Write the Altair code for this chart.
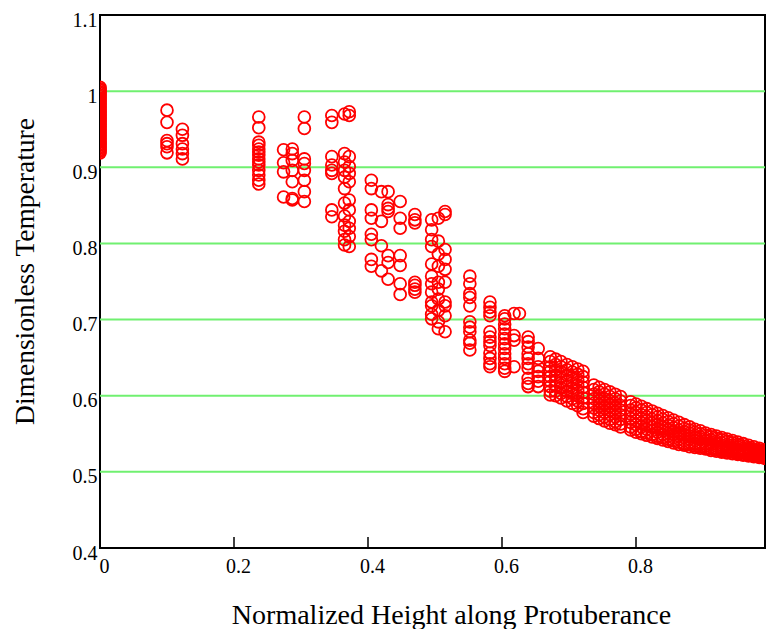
import altair as alt
import pandas as pd

# ---- data ----
x_zero_y = [1.005, 1.003, 1.001, 0.999, 0.997, 0.995, 0.993, 0.991, 0.989, 0.987, 0.985,
            0.983, 0.981, 0.979, 0.977, 0.975, 0.973, 0.971, 0.969, 0.967, 0.965, 0.963,
            0.961, 0.959, 0.957, 0.955, 0.953, 0.951, 0.949, 0.947, 0.945, 0.943, 0.941,
            0.939, 0.937, 0.935, 0.933, 0.931, 0.929, 0.927, 0.925, 0.923, 0.921, 0.919]

early_x = [0.100, 0.123, 0.237, 0.274, 0.287, 0.305, 0.346, 0.365, 0.372]
early_y = [
    [0.975, 0.959, 0.935, 0.931, 0.927, 0.919],
    [0.950, 0.942, 0.931, 0.924, 0.918, 0.911],
    [0.966, 0.952, 0.933, 0.929, 0.924, 0.920, 0.916, 0.911, 0.907, 0.903, 0.896, 0.890, 0.883, 0.878],
    [0.923, 0.906, 0.894, 0.861],
    [0.924, 0.918, 0.909, 0.896, 0.881, 0.859, 0.857],
    [0.966, 0.951, 0.911, 0.905, 0.896, 0.883, 0.868, 0.855],
    [0.968, 0.959, 0.914, 0.903, 0.896, 0.892, 0.844, 0.835],
    [0.970, 0.918, 0.907, 0.896, 0.887, 0.872, 0.853, 0.836, 0.824, 0.816, 0.805, 0.798],
    [0.973, 0.968, 0.914, 0.901, 0.892, 0.881, 0.857, 0.844, 0.829, 0.820, 0.809, 0.796],
]

middle_x = [0.405, 0.420, 0.430, 0.448, 0.470, 0.495, 0.505, 0.515, 0.552, 0.582, 0.604,
            0.618, 0.626, 0.639, 0.654]
middle_y = [
    [0.883, 0.872, 0.844, 0.833, 0.812, 0.805, 0.779, 0.770],
    [0.868, 0.829, 0.797, 0.764],
    [0.868, 0.851, 0.846, 0.842, 0.784, 0.775, 0.753],
    [0.855, 0.833, 0.820, 0.784, 0.771, 0.747, 0.733],
    [0.838, 0.831, 0.827, 0.749, 0.745, 0.740, 0.736],
    [0.831, 0.818, 0.805, 0.796, 0.773, 0.757, 0.747, 0.736, 0.723, 0.718, 0.707, 0.701],
    [0.833, 0.803, 0.786, 0.770, 0.749, 0.740, 0.727, 0.712, 0.697, 0.688],
    [0.842, 0.838, 0.792, 0.779, 0.766, 0.749, 0.723, 0.718, 0.705, 0.684],
    [0.757, 0.747, 0.734, 0.729, 0.718, 0.697, 0.690, 0.684, 0.673, 0.669, 0.660],
    [0.723, 0.716, 0.710, 0.705, 0.684, 0.677, 0.671, 0.666, 0.656, 0.649, 0.642, 0.638],
    [0.705, 0.701, 0.694, 0.688, 0.681, 0.675, 0.668, 0.662, 0.655, 0.649, 0.642, 0.636, 0.632],
    [0.708, 0.679, 0.673, 0.638],
    [0.708],
    [0.677, 0.671, 0.664, 0.655, 0.649, 0.642, 0.636, 0.623, 0.616, 0.612],
    [0.662, 0.649, 0.638, 0.632, 0.625, 0.619, 0.612],
]

tail_x = [0.672, 0.680, 0.688, 0.697, 0.705, 0.713, 0.721,
          0.737, 0.745, 0.753, 0.761, 0.769, 0.777,
          0.792, 0.800, 0.808, 0.816, 0.824, 0.832, 0.840,
          0.848, 0.856, 0.864, 0.872, 0.880, 0.888, 0.896, 0.904, 0.912, 0.920,
          0.928, 0.936, 0.944, 0.952, 0.960, 0.968, 0.976, 0.984, 0.992, 1.000]
tail_y = [
    [0.651, 0.645, 0.638, 0.632, 0.625, 0.619, 0.612, 0.606, 0.601],
    [0.648, 0.641, 0.634, 0.627, 0.620, 0.613, 0.606, 0.600],
    [0.645, 0.638, 0.631, 0.624, 0.617, 0.610, 0.603, 0.597],
    [0.641, 0.634, 0.627, 0.620, 0.613, 0.606, 0.599, 0.593],
    [0.638, 0.631, 0.624, 0.617, 0.610, 0.603, 0.596, 0.590],
    [0.635, 0.628, 0.621, 0.614, 0.607, 0.600, 0.593, 0.587],
    [0.632, 0.625, 0.618, 0.611, 0.604, 0.597, 0.590, 0.583, 0.578],
    [0.614, 0.608, 0.602, 0.596, 0.590, 0.584, 0.578, 0.573],
    [0.611, 0.605, 0.599, 0.593, 0.587, 0.581, 0.575, 0.570],
    [0.608, 0.602, 0.596, 0.590, 0.584, 0.578, 0.572, 0.567],
    [0.605, 0.599, 0.593, 0.587, 0.581, 0.575, 0.569, 0.564],
    [0.602, 0.596, 0.590, 0.584, 0.578, 0.572, 0.566, 0.562],
    [0.599, 0.593, 0.587, 0.581, 0.575, 0.569, 0.563, 0.559],
    [0.592, 0.587, 0.581, 0.576, 0.570, 0.565, 0.559, 0.555],
    [0.589, 0.584, 0.578, 0.573, 0.567, 0.562, 0.556, 0.552],
    [0.586, 0.581, 0.575, 0.570, 0.564, 0.559, 0.553, 0.550],
    [0.583, 0.578, 0.572, 0.567, 0.561, 0.556, 0.551, 0.548],
    [0.580, 0.575, 0.569, 0.564, 0.559, 0.554, 0.549, 0.546],
    [0.577, 0.572, 0.567, 0.562, 0.557, 0.552, 0.547, 0.544],
    [0.574, 0.569, 0.564, 0.559, 0.554, 0.549, 0.545, 0.542],
    [0.571, 0.566, 0.561, 0.556, 0.551, 0.547, 0.543, 0.540],
    [0.568, 0.563, 0.558, 0.553, 0.549, 0.545, 0.541, 0.538],
    [0.565, 0.560, 0.555, 0.551, 0.547, 0.543, 0.539, 0.536],
    [0.562, 0.557, 0.553, 0.549, 0.545, 0.541, 0.537, 0.535],
    [0.559, 0.555, 0.551, 0.547, 0.543, 0.539, 0.536, 0.533],
    [0.556, 0.552, 0.548, 0.545, 0.541, 0.537, 0.534, 0.532],
    [0.554, 0.550, 0.546, 0.543, 0.539, 0.536, 0.533, 0.531],
    [0.551, 0.548, 0.544, 0.541, 0.537, 0.534, 0.531, 0.530],
    [0.549, 0.546, 0.542, 0.539, 0.536, 0.533, 0.530, 0.528],
    [0.547, 0.544, 0.540, 0.537, 0.534, 0.531, 0.529, 0.527],
    [0.545, 0.542, 0.538, 0.535, 0.532, 0.530, 0.528, 0.526],
    [0.543, 0.540, 0.536, 0.533, 0.531, 0.529, 0.527, 0.525],
    [0.541, 0.538, 0.535, 0.532, 0.530, 0.528, 0.526, 0.524],
    [0.539, 0.536, 0.533, 0.530, 0.528, 0.526, 0.524, 0.523],
    [0.537, 0.534, 0.531, 0.529, 0.527, 0.525, 0.523, 0.522],
    [0.535, 0.532, 0.530, 0.528, 0.526, 0.524, 0.522, 0.521],
    [0.533, 0.530, 0.528, 0.526, 0.524, 0.522, 0.521, 0.520],
    [0.531, 0.529, 0.527, 0.525, 0.523, 0.521, 0.520, 0.519],
    [0.529, 0.527, 0.525, 0.523, 0.521, 0.520, 0.519, 0.518],
    [0.527, 0.525, 0.523, 0.521, 0.520, 0.519, 0.518, 0.517],
]

x_ticks = [0, 0.2, 0.4, 0.6, 0.8]
inner_ticks = [0.2, 0.4, 0.6, 0.8]
y_ticks = [0.4, 0.5, 0.6, 0.7, 0.8, 0.9, 1.0, 1.1]
grid_y = [0.5, 0.6, 0.7, 0.8, 0.9, 1.0]

# ---- build table ----
rows = [{"x": 0.0, "y": v} for v in x_zero_y]
for xs, ys in ((early_x, early_y), (middle_x, middle_y), (tail_x, tail_y)):
    for xv, col in zip(xs, ys):
        rows.extend({"x": xv, "y": v} for v in col)
df = pd.DataFrame(rows)

FONT = "Liberation Serif"
PAD_TOP = 7
PLOT_W = 665
PLOT_H = 533
xscale = alt.Scale(domain=[0, PLOT_W / 670.0], nice=False, zero=False)
yscale = alt.Scale(domain=[0.4, 1.1], nice=False, zero=False)

x_axis = alt.Axis(values=x_ticks, title="Normalized Height along Protuberance",
                  format="~g", grid=False, ticks=False, tickSize=0, domain=False,
                  labelFont=FONT, labelFontSize=20, labelColor="black",
                  labelBaseline="alphabetic", labelPadding=24, labelOffset=4,
                  labelAlign="center",
                  titleFont=FONT, titleFontSize=28, titleFontWeight="normal",
                  titleColor="black", titleBaseline="alphabetic",
                  titleX=351, titleY=75, titleAlign="center")
y_axis = alt.Axis(values=y_ticks, title="Dimensionless Temperature",
                  format="~g", grid=False, ticks=False, tickSize=0, domain=False,
                  labelFont=FONT, labelFontSize=20, labelColor="black",
                  labelBaseline="alphabetic", labelPadding=3, labelOffset=11,
                  labelAlign="right",
                  titleFont=FONT, titleFontSize=27.5, titleFontWeight="normal",
                  titleColor="black", titleBaseline="alphabetic",
                  titleAngle=270, titleX=-67, titleY=256, titleAlign="center")

grid = alt.Chart(pd.DataFrame({"g": grid_y})).mark_rule(
    color="#70F070", strokeWidth=2
).encode(y=alt.Y("g:Q", scale=yscale, axis=y_axis))

ticks = alt.Chart(pd.DataFrame({"t": inner_ticks})).mark_rule(
    color="black", strokeWidth=1.5
).encode(
    x=alt.X("t:Q", scale=xscale, axis=x_axis),
    y=alt.value(PLOT_H - 11),
    y2=alt.value(PLOT_H),
)

points = alt.Chart(df).mark_point(
    shape="circle", filled=False, color="#FF0000", size=140, strokeWidth=1.8,
    opacity=1, clip=True
).encode(
    x=alt.X("x:Q", scale=xscale, axis=x_axis),
    y=alt.Y("y:Q", scale=yscale, axis=y_axis),
)

chart = alt.layer(grid, points, ticks).properties(
    width=PLOT_W, height=PLOT_H,
    autosize=alt.AutoSizeParams(type="none"),
    padding={"left": 92, "top": PAD_TOP, "right": 1, "bottom": 81},
).configure(
    background="white",
    view=alt.ViewConfig(stroke="black", strokeWidth=2),
)

chart.save("out.html", embed_options={"renderer": "svg", "actions": False})
